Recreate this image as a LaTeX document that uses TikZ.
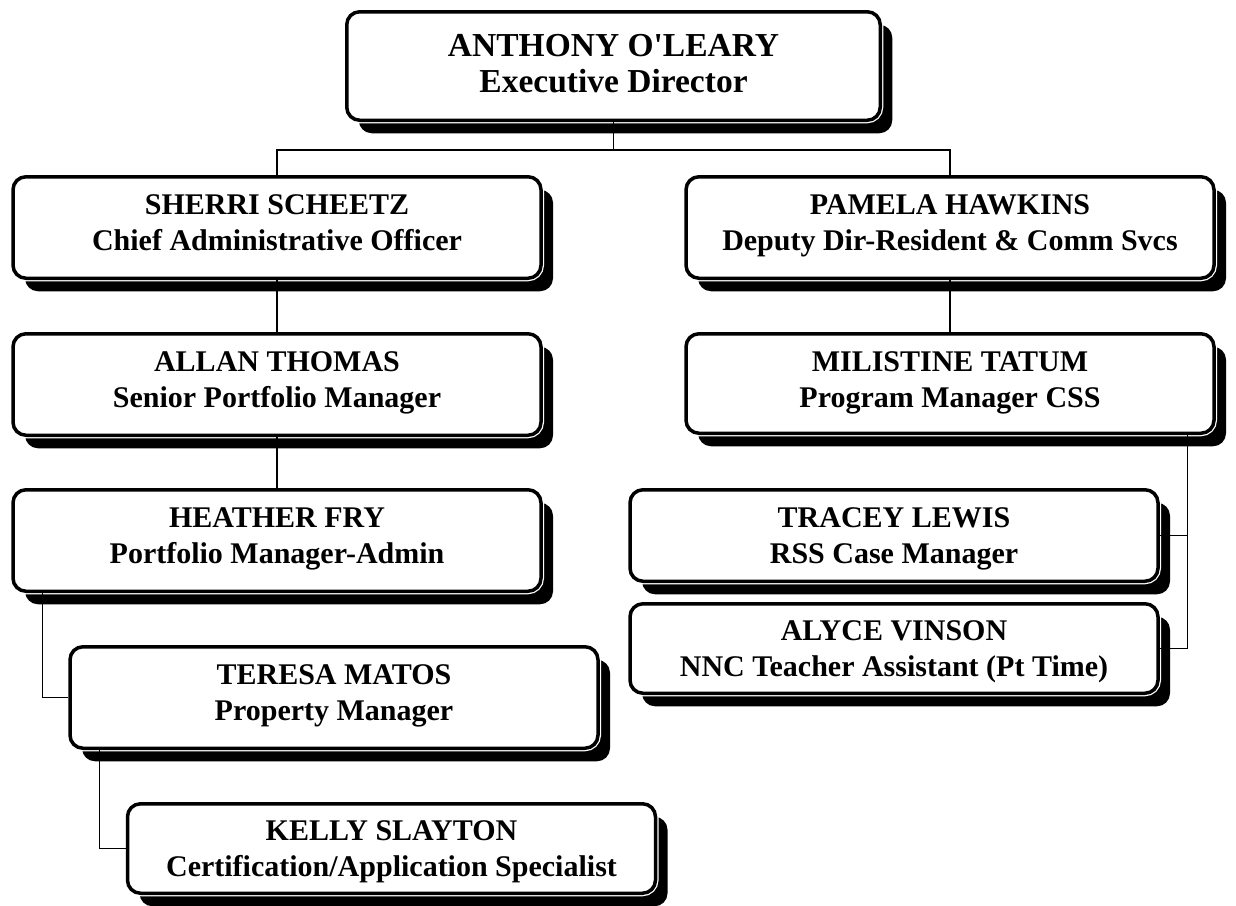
\documentclass[tikz,border=0pt]{standalone}
\usepackage{fontspec}
\setmainfont{Liberation Serif}
\usetikzlibrary{shadows,calc}

\begin{document}
\begin{tikzpicture}[x=1pt, y=-1pt,
    box/.style ={
        draw=black,
        line width=3.5pt,
        fill=white,
        rounded corners=13pt,
        align=center,
        inner sep=0pt,
        minimum width=528pt,
        text height=57pt,
        font=\bfseries\fontsize{30}{36}\selectfont,
        drop shadow={shadow xshift=12pt, shadow yshift=-13pt, fill=black, opacity=1},
        preaction={draw=white, line width=6pt}
    },
    link/.style ={
        line width=1.4pt
    }
    ]
    \useasboundingbox (0,0) rectangle (1236,905);

    \node[box, minimum width=533.5pt, minimum height=108.5pt, text height=58pt, text depth=6pt,
          font=\bfseries\fontsize{33.5}{36}\selectfont] (top) at (613.5,66)
          {ANTHONY O\textquotesingle LEARY\\Executive Director};

    \foreach \id/ \pos/ \hgt/ \dep/ \txt in {
        {sherri/(277,227.5)/101.5/12/{SHERRI SCHEETZ\\Chief Administrative Officer}},
        {pamela/(950,227.5)/101.5/12/{PAMELA HAWKINS\\Deputy Dir-Resident \& Comm Svcs}},
        {allan/(277,384.5)/101.5/12/{ALLAN THOMAS\\Senior Portfolio Manager}},
        {milist/(950,383.5)/99.5/10/{MILISTINE TATUM\\Program Manager CSS}},
        {heather/(277,540.5)/101.5/12/{HEATHER FRY\\Portfolio Manager-Admin}},
        {tracey/(894,535.5)/91.5/2/{TRACEY LEWIS\\RSS Case Manager}},
        {alyce/(894,648.5)/89.5/1/{ALYCE VINSON\\NNC Teacher Assistant (Pt Time)}},
        {teresa/(334,697.5)/101.5/12/{TERESA MATOS\\Property Manager}},
        {kelly/(391.5,848.5)/89.5/1/{KELLY SLAYTON\\Certification/Application Specialist}}}
        \node[box, minimum height=\hgt pt, text depth=\dep pt] (\id) at \pos {\txt};

    % reporting lines
    \coordinate (bus) at (613.5,150);
    \draw[link] (top.south) -- (bus) -| (sherri.north);
    \draw[link] (bus) -| (pamela.north);
    \draw[link] (sherri) -- (allan);
    \draw[link] (allan) -- (heather);
    \draw[link] (pamela) -- (milist);
    \draw[link] ([xshift=31pt]heather.south west) |- (teresa.west);
    \draw[link] ([xshift=31pt]teresa.south west) |- (kelly.west);
    \draw[link] ([xshift=-28pt]milist.south east) |- (tracey.east);
    \draw[link] ([xshift=-28pt]milist.south east) |- (alyce.east);
\end{tikzpicture}
\end{document}
